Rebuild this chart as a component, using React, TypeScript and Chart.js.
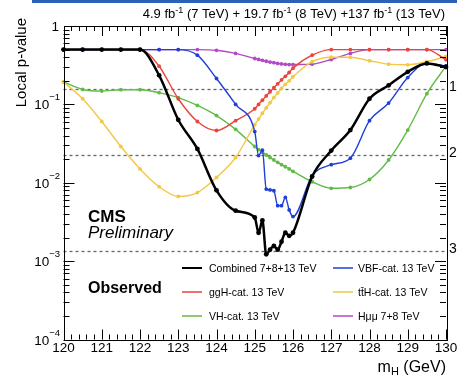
import React, { useEffect, useRef } from "react";
import { Chart, registerables } from "chart.js";

Chart.register(...registerables);

// ---------- data ----------
const massPoints = [120, 120.5, 121, 121.5, 122, 122.5, 123, 123.5, 124, 124.5, 125, 125.1, 125.2, 125.3, 125.4, 125.5, 125.6, 125.7, 125.8, 125.9, 126, 126.5, 127, 127.5, 128, 128.5, 129, 129.5, 130];

const combinedP = [0.5, 0.5, 0.5, 0.5, 0.5, 0.235, 0.0636, 0.027, 0.008, 0.0044, 0.0036, 0.0023, 0.0033, 0.00122, 0.0014, 0.00156, 0.0014, 0.00177, 0.0023, 0.0021, 0.0023, 0.012, 0.0257, 0.047, 0.118, 0.175, 0.26, 0.333, 0.3];
const vbfP = [0.5, 0.5, 0.5, 0.5, 0.5, 0.5, 0.5, 0.425, 0.214, 0.1, 0.045, 0.0222, 0.026, 0.0083, 0.0081, 0.0079, 0.0051, 0.0051, 0.0065, 0.0045, 0.0037, 0.0123, 0.017, 0.0206, 0.062, 0.104, 0.22, 0.334, 0.31];
const ggHP = [0.5, 0.5, 0.5, 0.5, 0.5, 0.307, 0.118, 0.0605, 0.0464, 0.062, 0.088, 0.1, 0.113, 0.128, 0.145, 0.163, 0.183, 0.205, 0.228, 0.255, 0.29, 0.425, 0.5, 0.5, 0.5, 0.5, 0.5, 0.5, 0.37];
const ttHP = [0.193, 0.118, 0.0605, 0.029, 0.015, 0.0089, 0.0067, 0.0075, 0.0117, 0.021, 0.055, 0.065, 0.077, 0.09, 0.105, 0.122, 0.14, 0.16, 0.18, 0.2, 0.225, 0.35, 0.4, 0.4, 0.36, 0.326, 0.32, 0.35, 0.41];
const vhP = [0.193, 0.155, 0.148, 0.154, 0.154, 0.141, 0.122, 0.097, 0.072, 0.048, 0.029, 0.0265, 0.0245, 0.0226, 0.021, 0.0195, 0.0182, 0.017, 0.016, 0.015, 0.014, 0.0103, 0.0085, 0.0087, 0.011, 0.0195, 0.047, 0.137, 0.307];
const hmumuP = [0.5, 0.5, 0.5, 0.5, 0.5, 0.5, 0.5, 0.5, 0.49, 0.447, 0.385, 0.375, 0.365, 0.355, 0.347, 0.34, 0.333, 0.328, 0.324, 0.322, 0.322, 0.326, 0.374, 0.447, 0.5, 0.5, 0.5, 0.5, 0.5];

const seriesLabels = ["Combined 7+8+13 TeV", "VBF-cat. 13 TeV", "ggH-cat. 13 TeV", "t\u0074\u0304H-cat. 13 TeV", "VH-cat. 13 TeV", "H\u03bc\u03bc 7+8 TeV"];
const seriesColors = ["#000000", "#1f3fd8", "#e8453c", "#f3c845", "#62bb47", "#b24ac4"];
const seriesValues = [combinedP, vbfP, ggHP, ttHP, vhP, hmumuP];

const xTickValues = [120, 121, 122, 123, 124, 125, 126, 127, 128, 129, 130];
const yTickValues = [1, 0.1, 0.01, 0.001, 0.0001];
const yTickExponents = ["", "\u22121", "\u22122", "\u22123", "\u22124"];
const sigmaLevels = [0.1587, 0.02275, 0.00135];
const sigmaLabels = ["1\u03c3", "2\u03c3", "3\u03c3"];

const FONT = "'Liberation Sans', Arial, Helvetica, sans-serif";

// legend order (as shown: 2 columns x 3 rows)
const legendGrid = [
  [0, 1],
  [2, 3],
  [4, 5],
];

const decorPlugin = {
  id: "decor",
  beforeDatasetsDraw(chart: any) {
    const { ctx, chartArea } = chart;
    const y = chart.scales.y;
    ctx.save();
    ctx.strokeStyle = "#666";
    ctx.lineWidth = 1.3;
    ctx.setLineDash([3, 3]);
    sigmaLevels.forEach((p) => {
      const py = Math.round(y.getPixelForValue(p)) + 0.5;
      ctx.beginPath();
      ctx.moveTo(chartArea.left, py);
      ctx.lineTo(chartArea.right, py);
      ctx.stroke();
    });
    ctx.restore();
  },
  afterDraw(chart: any) {
    const { ctx, chartArea } = chart;
    const { left, right, top, bottom } = chartArea;
    const x = chart.scales.x;
    const y = chart.scales.y;
    ctx.save();

    // header strip
    ctx.fillStyle = "#2b62b5";
    ctx.fillRect(32, 0, 457 - 32, 3);

    // frame
    ctx.strokeStyle = "#000";
    ctx.lineWidth = 1;
    ctx.setLineDash([]);
    ctx.strokeRect(Math.round(left) + 0.5, Math.round(top) + 0.5, Math.round(right - left), Math.round(bottom - top));

    // x ticks
    ctx.beginPath();
    for (let i = 0; i <= 50; i++) {
      const m = 120 + i * 0.2;
      const px = Math.round(x.getPixelForValue(m)) + 0.5;
      const len = i % 5 === 0 ? 10 : 5;
      ctx.moveTo(px, bottom);
      ctx.lineTo(px, bottom - len);
      ctx.moveTo(px, top);
      ctx.lineTo(px, top + len);
    }
    // y ticks
    for (let d = -4; d <= -1; d++) {
      for (let k = 1; k <= 9; k++) {
        const v = k * Math.pow(10, d);
        const py = Math.round(y.getPixelForValue(v)) + 0.5;
        const len = k === 1 ? 11 : 6;
        ctx.moveTo(left, py);
        ctx.lineTo(left + len, py);
        ctx.moveTo(right, py);
        ctx.lineTo(right - len, py);
      }
    }
    ctx.stroke();

    // x tick labels
    ctx.fillStyle = "#000";
    ctx.font = `13.5px ${FONT}`;
    ctx.textAlign = "center";
    ctx.textBaseline = "alphabetic";
    xTickValues.forEach((m) => {
      ctx.fillText(String(m), x.getPixelForValue(m), bottom + 12);
    });

    // y tick labels
    yTickValues.forEach((v, i) => {
      const py = y.getPixelForValue(v);
      const exp = yTickExponents[i];
      if (!exp) {
        ctx.font = `13.5px ${FONT}`;
        ctx.textAlign = "right";
        ctx.fillText("1", 59, py + 5);
        return;
      }
      ctx.font = `9.5px ${FONT}`;
      const supW = ctx.measureText(exp).width;
      ctx.textAlign = "left";
      ctx.fillText(exp, 60 - supW, py - 4);
      ctx.font = `13.5px ${FONT}`;
      ctx.textAlign = "right";
      ctx.fillText("10", 60 - supW, py + 5);
    });

    // sigma labels (right, partly cut by the edge)
    ctx.font = `14px ${FONT}`;
    ctx.textAlign = "left";
    ctx.textBaseline = "middle";
    sigmaLevels.forEach((p, i) => {
      ctx.fillText(sigmaLabels[i], right + 3, y.getPixelForValue(p) - 2);
    });
    ctx.textBaseline = "alphabetic";

    // y axis title
    ctx.save();
    ctx.translate(26, 18);
    ctx.rotate(-Math.PI / 2);
    ctx.font = `15px ${FONT}`;
    ctx.textAlign = "right";
    ctx.fillText("Local p-value", 0, 0);
    ctx.restore();

    // x axis title: m_H (GeV)
    {
      const main = `16px ${FONT}`;
      const sub = `11px ${FONT}`;
      ctx.font = main;
      const wM = ctx.measureText("m").width;
      const wRest = ctx.measureText(" (GeV)").width;
      ctx.font = sub;
      const wH = ctx.measureText("H").width;
      const xEnd = right;
      let cx = xEnd - (wM + wH + wRest);
      const base = 372;
      ctx.textAlign = "left";
      ctx.font = main;
      ctx.fillText("m", cx, base);
      cx += wM;
      ctx.font = sub;
      ctx.fillText("H", cx, base + 3);
      cx += wH;
      ctx.font = main;
      ctx.fillText(" (GeV)", cx, base);
    }

    // luminosity title
    {
      const parts: [string, boolean][] = [
        ["4.9 fb", false], ["-1", true], [" (7 TeV) + 19.7 fb", false], ["-1", true], [" (8 TeV) +137 fb", false], ["-1", true], [" (13 TeV)", false],
      ];
      const main = `13px ${FONT}`;
      const sup = `9px ${FONT}`;
      let total = 0;
      parts.forEach(([t, s]) => {
        ctx.font = s ? sup : main;
        total += ctx.measureText(t).width;
      });
      let cx = 445 - total;
      const base = 18;
      ctx.textAlign = "left";
      parts.forEach(([t, s]) => {
        ctx.font = s ? sup : main;
        ctx.fillText(t, cx, s ? base - 5 : base);
        cx += ctx.measureText(t).width;
      });
    }

    // CMS labels
    ctx.textAlign = "left";
    ctx.font = `bold 17px ${FONT}`;
    ctx.fillText("CMS", 88, 222);
    ctx.font = `italic 17px ${FONT}`;
    ctx.fillText("Preliminary", 88, 238);
    ctx.font = `bold 16px ${FONT}`;
    ctx.fillText("Observed", 88, 293);

    // legend
    const rowY = [268, 292, 316];
    const colLine = [
      [182, 202, 209],
      [333, 353, 358],
    ];
    ctx.font = `10.5px ${FONT}`;
    legendGrid.forEach((row, r) => {
      row.forEach((si, c) => {
        const [x0, x1, tx] = colLine[c];
        ctx.strokeStyle = seriesColors[si];
        ctx.lineWidth = si === 0 ? 2 : 1.5;
        ctx.beginPath();
        ctx.moveTo(x0, rowY[r]);
        ctx.lineTo(x1, rowY[r]);
        ctx.stroke();
        ctx.fillStyle = "#000";
        ctx.fillText(seriesLabels[si], tx, rowY[r] + 4);
      });
    });

    ctx.restore();
  },
};

export default function App() {
  const canvasRef = useRef<HTMLCanvasElement | null>(null);

  useEffect(() => {
    document.body.style.margin = "0";
    const canvas = canvasRef.current;
    if (!canvas) return;
    const datasets = seriesValues.map((vals, si) => ({
      label: seriesLabels[si],
      data: massPoints.map((m, i) => ({ x: m, y: vals[i] })),
      borderColor: seriesColors[si],
      backgroundColor: seriesColors[si],
      borderWidth: si === 0 ? 2.5 : 1.4,
      pointRadius: si === 0 ? 2.4 : 1.9,
      pointBorderWidth: 0,
      pointBackgroundColor: seriesColors[si],
      cubicInterpolationMode: "monotone" as const,
      fill: false,
      clip: 6,
    }));
    const chart = new Chart(canvas, {
      type: "line",
      data: { datasets },
      options: {
        animation: false,
        responsive: false,
        maintainAspectRatio: false,
        devicePixelRatio: 1,
        layout: { padding: { left: 63.5, right: 11, top: 26, bottom: 37.5 } },
        plugins: { legend: { display: false }, tooltip: { enabled: false } },
        scales: {
          x: { type: "linear", min: 120, max: 130, display: false },
          y: { type: "logarithmic", min: 0.0001, max: 1, display: false },
        },
      },
      plugins: [decorPlugin],
    });
    return () => chart.destroy();
  }, []);

  return (
    <div style={{ width: 457, height: 377, background: "#fff" }}>
      <canvas ref={canvasRef} width={457} height={377} style={{ display: "block" }} />
    </div>
  );
}
